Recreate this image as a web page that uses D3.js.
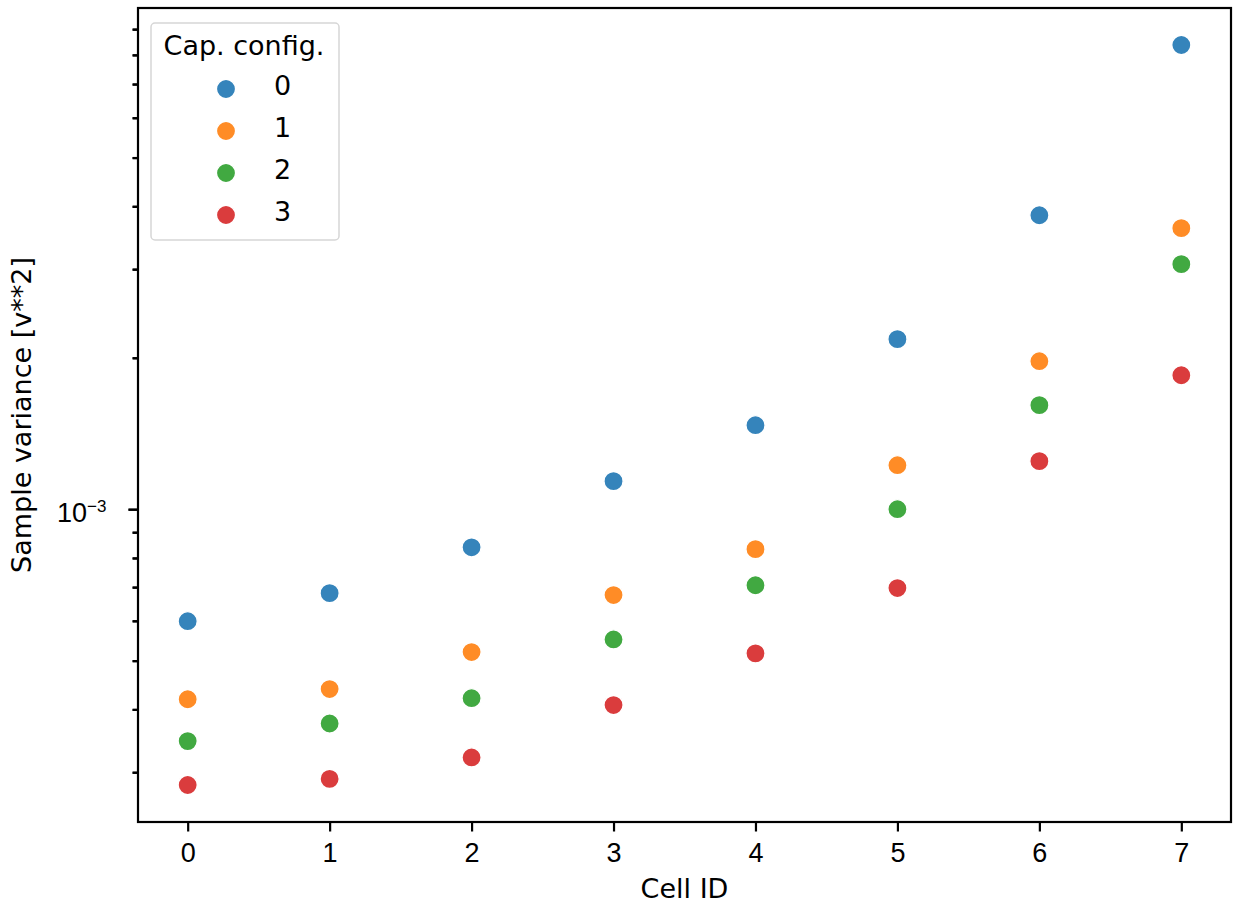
<!DOCTYPE html>
<html>
<head>
<meta charset="utf-8">
<script src="https://cdn.jsdelivr.net/npm/d3@7"></script>
<style>
  body { margin: 0; background: #fff; }
  svg { display: block; font-family: "DejaVu Sans", sans-serif; }
</style>
</head>
<body>
<svg id="chart" width="1244" height="914"></svg>
<script>
// Data
var cellIds = [0, 1, 2, 3, 4, 5, 6, 7];
var capConfigs = ["0", "1", "2", "3"];
var varConfig0 = [5.99e-4, 6.81e-4, 8.40e-4, 1.137e-3, 1.469e-3, 2.178e-3, 3.84e-3, 8.37e-3];
var varConfig1 = [4.19e-4, 4.39e-4, 5.20e-4, 6.75e-4, 8.33e-4, 1.223e-3, 1.969e-3, 3.62e-3];
var varConfig2 = [3.46e-4, 3.75e-4, 4.21e-4, 5.51e-4, 7.06e-4, 1.0e-3, 1.61e-3, 3.07e-3];
var varConfig3 = [2.83e-4, 2.91e-4, 3.21e-4, 4.08e-4, 5.17e-4, 6.97e-4, 1.246e-3, 1.846e-3];
var colors = ["#1f77b4", "#ff7f0e", "#2ca02c", "#d62728"];

var series = [varConfig0, varConfig1, varConfig2, varConfig3];

var margin = { top: 8, right: 13, bottom: 92, left: 138 };
var width = 1244 - margin.left - margin.right;
var height = 914 - margin.top - margin.bottom;
var fontSize = "27px";
var lineW = 2.2;

var root = d3.select("#chart");
var svg = root.append("g")
  .attr("transform", "translate(" + margin.left + "," + margin.top + ")");

// build flat point list
var points = [];
series.forEach(function (vals, s) {
  vals.forEach(function (v, i) {
    points.push({ cell: cellIds[i], config: s, value: v });
  });
});

// x with matplotlib-like 5% margins
var xPad = (d3.max(cellIds) - d3.min(cellIds)) * 0.05;
var x = d3.scaleLinear()
  .domain([d3.min(cellIds) - xPad, d3.max(cellIds) + xPad])
  .range([0, width]);

// y log with 5% margins in log space
var lo = Math.log10(d3.min(points, function (d) { return d.value; }));
var hi = Math.log10(d3.max(points, function (d) { return d.value; }));
var yPad = (hi - lo) * 0.05;
var y = d3.scaleLog()
  .domain([Math.pow(10, lo - yPad), Math.pow(10, hi + yPad)])
  .range([height, 0]);

var allTicks = y.ticks();
function isMajor(t) {
  return Math.abs(Math.log10(t) - Math.round(Math.log10(t))) < 1e-9;
}

// frame
svg.append("rect")
  .attr("width", width)
  .attr("height", height)
  .attr("fill", "none")
  .attr("stroke", "#000")
  .attr("stroke-width", lineW);

// points
svg.selectAll(".dot")
  .data(points)
  .enter().append("circle")
  .attr("class", "dot")
  .attr("cx", function (d) { return x(d.cell); })
  .attr("cy", function (d) { return y(d.value); })
  .attr("r", 9.6)
  .attr("fill", function (d) { return colors[d.config]; })
  .attr("fill-opacity", 0.9)
  .attr("stroke", "#fff")
  .attr("stroke-width", 1.4);

// axis labels
svg.append("text")
  .attr("x", width / 2)
  .attr("y", height + 76)
  .attr("text-anchor", "middle")
  .style("font-size", fontSize)
  .text("Cell ID");

svg.append("text")
  .attr("transform", "translate(" + (-107) + "," + (height / 2) + ") rotate(-90)")
  .attr("text-anchor", "middle")
  .style("font-size", fontSize)
  .text("Sample variance [v**2]");

// legend
var legend = svg.append("g").attr("transform", "translate(13,15)");
legend.append("rect")
  .attr("width", 188)
  .attr("height", 217)
  .attr("rx", 4)
  .attr("fill", "#fff")
  .attr("fill-opacity", 0.8)
  .attr("stroke", "#d6d6d6")
  .attr("stroke-width", 1.5);
legend.append("text")
  .attr("x", 93)
  .attr("y", 32)
  .attr("text-anchor", "middle")
  .style("font-size", fontSize)
  .text("Cap. config.");
var items = legend.selectAll(".item")
  .data(capConfigs)
  .enter().append("g")
  .attr("class", "item")
  .attr("transform", function (d, i) { return "translate(0," + (66 + i * 42) + ")"; });
items.append("circle")
  .attr("cx", 75)
  .attr("r", 9.6)
  .attr("fill", function (d, i) { return colors[i]; })
  .attr("fill-opacity", 0.9)
  .attr("stroke", "#fff")
  .attr("stroke-width", 1.4);
items.append("text")
  .attr("x", 123)
  .attr("y", 6)
  .style("font-size", fontSize)
  .text(function (d) { return d; });

// x axis
var xAxis = root.append("g")
  .attr("transform", "translate(" + margin.left + "," + (margin.top + height) + ")")
  .call(d3.axisBottom(x).tickValues(cellIds).tickFormat(d3.format("d")).tickSize(9.5).tickPadding(11));
xAxis.select(".domain").remove();
xAxis.selectAll(".tick line").attr("stroke", "#000").attr("stroke-width", lineW);
xAxis.selectAll(".tick text").style("font-size", fontSize).attr("fill", "#000");

// y axis: all log ticks, minor ones shorter
var yAxis = root.append("g")
  .attr("transform", "translate(" + margin.left + "," + margin.top + ")")
  .call(d3.axisLeft(y).tickValues(allTicks).tickFormat("").tickSize(9.5));
yAxis.select(".domain").remove();
yAxis.selectAll(".tick line")
  .attr("stroke", "#000")
  .style("stroke-width", lineW + "px")
  .attr("x2", function (d) { return isMajor(d) ? -9.5 : -5.4; });
// solid tick marks
yAxis.selectAll(".tick").append("rect")
  .attr("x", function (d) { return isMajor(d) ? -9.5 : -5.4; })
  .attr("y", -lineW / 2)
  .attr("width", function (d) { return isMajor(d) ? 9.5 : 5.4; })
  .attr("height", lineW)
  .attr("fill", "#000");

var majorTickG = yAxis.selectAll(".tick").filter(function (d) { return isMajor(d); });
majorTickG.append("text")
  .attr("x", -51)
  .attr("y", 12)
  .attr("text-anchor", "end")
  .attr("fill", "#000")
  .style("font-size", fontSize)
  .text("10");
majorTickG.append("text")
  .attr("x", -51)
  .attr("y", 2.5)
  .attr("text-anchor", "start")
  .attr("fill", "#000")
  .style("font-size", "17px")
  .text(function (d) { return "\u2212" + Math.abs(Math.round(Math.log10(d))); });
</script>
</body>
</html>
